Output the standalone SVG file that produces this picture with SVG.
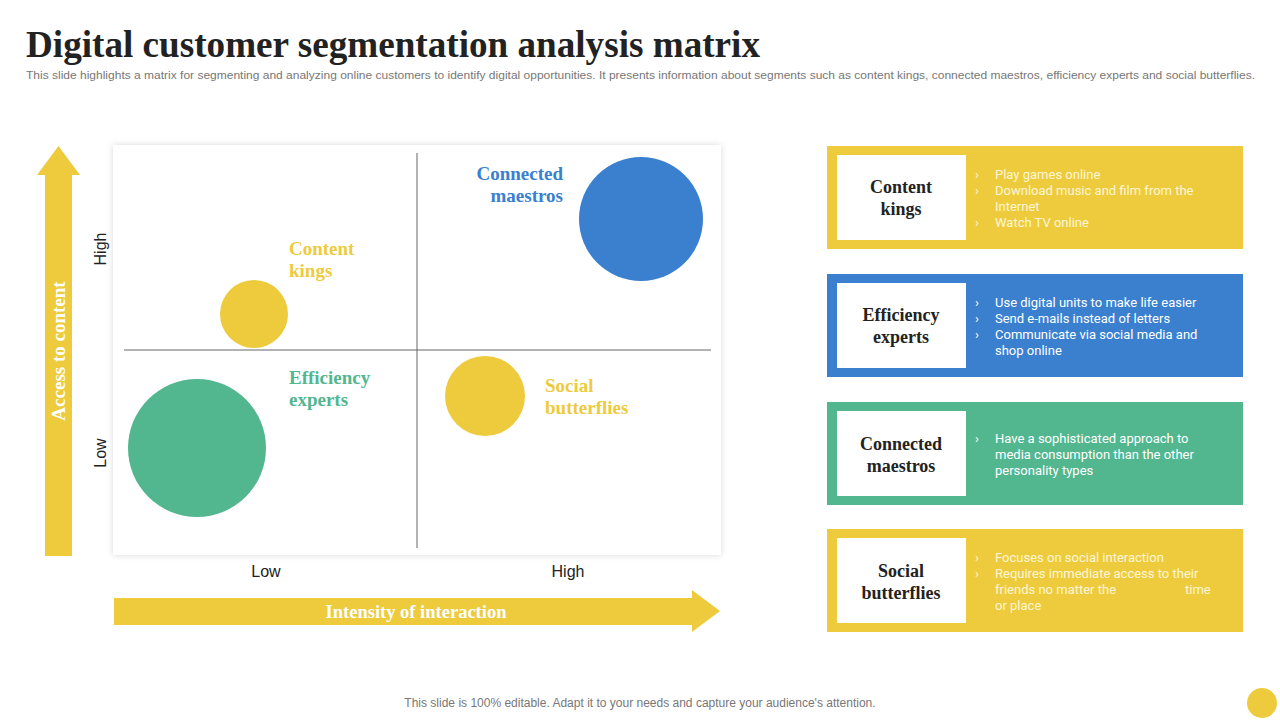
<svg xmlns="http://www.w3.org/2000/svg" width="1280" height="720" viewBox="0 0 1280 720">
<defs>
<filter id="sh" x="-5%" y="-5%" width="110%" height="110%"><feDropShadow dx="0" dy="0" stdDeviation="3" flood-color="#000" flood-opacity="0.15"/></filter>
<style>
.serif{font-family:"Liberation Serif","Times New Roman",serif;font-weight:bold}
.sans{font-family:"Liberation Sans",Arial,sans-serif}
.ax{font-family:"Liberation Sans",Arial,sans-serif;font-size:16px;fill:#222}
.ctitle{font-family:"Liberation Serif","Times New Roman",serif;font-weight:bold;font-size:18px;fill:#222;text-anchor:middle}
.bl{font-family:"Roboto","Liberation Sans",Arial,sans-serif;font-size:13px}
.yt{fill:#FFF6D6}
.wt{fill:#FFFFFF}
.yel{fill:#EDCB3D}
.blu{fill:#3A80CF}
.grn{fill:#52B68F}
.grid{stroke:#666;stroke-width:1}
</style>
</defs>
<rect width="1280" height="720" fill="#fff"/>
<text x="26" y="57" class="serif" font-size="38" fill="#222" textLength="734" lengthAdjust="spacingAndGlyphs">Digital customer segmentation analysis matrix</text>
<text x="26" y="79" class="sans" font-size="11.5" fill="#777" textLength="1229" lengthAdjust="spacingAndGlyphs">This slide highlights a matrix for segmenting and analyzing online customers to identify digital opportunities. It presents information about segments such as content kings, connected maestros, efficiency experts and social butterflies.</text>

<g id="y-axis">
<polygon class="yel" points="45,556 72,556 72,175 80,175 58.5,146 37,175 45,175"/>
<text transform="translate(65,351) rotate(-90)" class="serif" font-size="19" fill="#fff" text-anchor="middle">Access to content</text>
<text transform="translate(106,249) rotate(-90)" class="ax" text-anchor="middle">High</text>
<text transform="translate(106,453) rotate(-90)" class="ax" text-anchor="middle">Low</text>
</g>

<g id="matrix">
<rect x="113" y="145" width="608" height="410" fill="#fff" filter="url(#sh)"/>
<line class="grid" x1="417" y1="153" x2="417" y2="548"/>
<line class="grid" x1="124" y1="350" x2="711" y2="350"/>
</g>

<g id="content-kings-bubble">
<circle cx="254" cy="314" r="34" class="yel"/>
<text class="serif yel" font-size="19"><tspan x="289" y="255">Content</tspan><tspan x="289" y="277">kings</tspan></text>
</g>
<g id="efficiency-experts-bubble">
<circle cx="197" cy="448" r="69" class="grn"/>
<text class="serif grn" font-size="19"><tspan x="289" y="384">Efficiency</tspan><tspan x="289" y="406">experts</tspan></text>
</g>
<g id="connected-maestros-bubble">
<circle cx="641" cy="219" r="62" class="blu"/>
<text class="serif blu" font-size="19" text-anchor="end"><tspan x="563" y="180">Connected</tspan><tspan x="563" y="202">maestros</tspan></text>
</g>
<g id="social-butterflies-bubble">
<circle cx="485" cy="396" r="40" class="yel"/>
<text class="serif yel" font-size="19"><tspan x="545" y="392">Social</tspan><tspan x="545" y="414">butterflies</tspan></text>
</g>

<g id="x-axis">
<text x="266" y="577" class="ax" text-anchor="middle">Low</text>
<text x="568" y="577" class="ax" text-anchor="middle">High</text>
<polygon class="yel" points="114,598 692,598 692,590 720,611 692,632 692,625 114,625"/>
<text x="416" y="618" class="serif" font-size="18.5" fill="#fff" text-anchor="middle">Intensity of interaction</text>
</g>

<g id="card-content-kings">
<rect x="827" y="146" width="416" height="103" class="yel"/>
<rect x="837" y="155" width="129" height="85" fill="#fff"/>
<text class="ctitle"><tspan x="901" y="193">Content</tspan><tspan x="901" y="215">kings</tspan></text>
<text class="bl yt"><tspan x="975" y="179">›</tspan><tspan x="975" y="195">›</tspan><tspan x="975" y="227">›</tspan></text>
<text class="bl yt"><tspan x="995" y="179">Play games online</tspan><tspan x="995" y="195">Download music and film from the</tspan><tspan x="995" y="211">Internet</tspan><tspan x="995" y="227">Watch TV online</tspan></text>
</g>

<g id="card-efficiency-experts">
<rect x="827" y="274" width="416" height="103" class="blu"/>
<rect x="837" y="283" width="129" height="85" fill="#fff"/>
<text class="ctitle"><tspan x="901" y="321">Efficiency</tspan><tspan x="901" y="343">experts</tspan></text>
<text class="bl wt"><tspan x="975" y="307">›</tspan><tspan x="975" y="323">›</tspan><tspan x="975" y="339">›</tspan></text>
<text class="bl wt"><tspan x="995" y="307">Use digital units to make life easier</tspan><tspan x="995" y="323">Send e-mails instead of letters</tspan><tspan x="995" y="339">Communicate via social media and</tspan><tspan x="995" y="355">shop online</tspan></text>
</g>

<g id="card-connected-maestros">
<rect x="827" y="402" width="416" height="103" class="grn"/>
<rect x="837" y="411" width="129" height="85" fill="#fff"/>
<text class="ctitle"><tspan x="901" y="450">Connected</tspan><tspan x="901" y="472">maestros</tspan></text>
<text class="bl wt"><tspan x="975" y="443">›</tspan></text>
<text class="bl wt"><tspan x="995" y="443">Have a sophisticated approach to</tspan><tspan x="995" y="459">media consumption than the other</tspan><tspan x="995" y="475">personality types</tspan></text>
</g>

<g id="card-social-butterflies">
<rect x="827" y="529" width="416" height="103" class="yel"/>
<rect x="837" y="538" width="129" height="85" fill="#fff"/>
<text class="ctitle"><tspan x="901" y="577">Social</tspan><tspan x="901" y="599">butterflies</tspan></text>
<text class="bl yt"><tspan x="975" y="562">›</tspan><tspan x="975" y="578">›</tspan></text>
<text class="bl yt"><tspan x="995" y="562">Focuses on social interaction</tspan><tspan x="995" y="578">Requires immediate access to their</tspan><tspan x="995" y="594">friends no matter the</tspan><tspan x="1185" y="594">time</tspan><tspan x="995" y="610">or place</tspan></text>
</g>

<g id="connectors"></g>

<text x="640" y="707" class="sans" font-size="12" fill="#777" text-anchor="middle">This slide is 100% editable. Adapt it to your needs and capture your audience's attention.</text>
<circle cx="1262" cy="703" r="15" class="yel"/>
</svg>
